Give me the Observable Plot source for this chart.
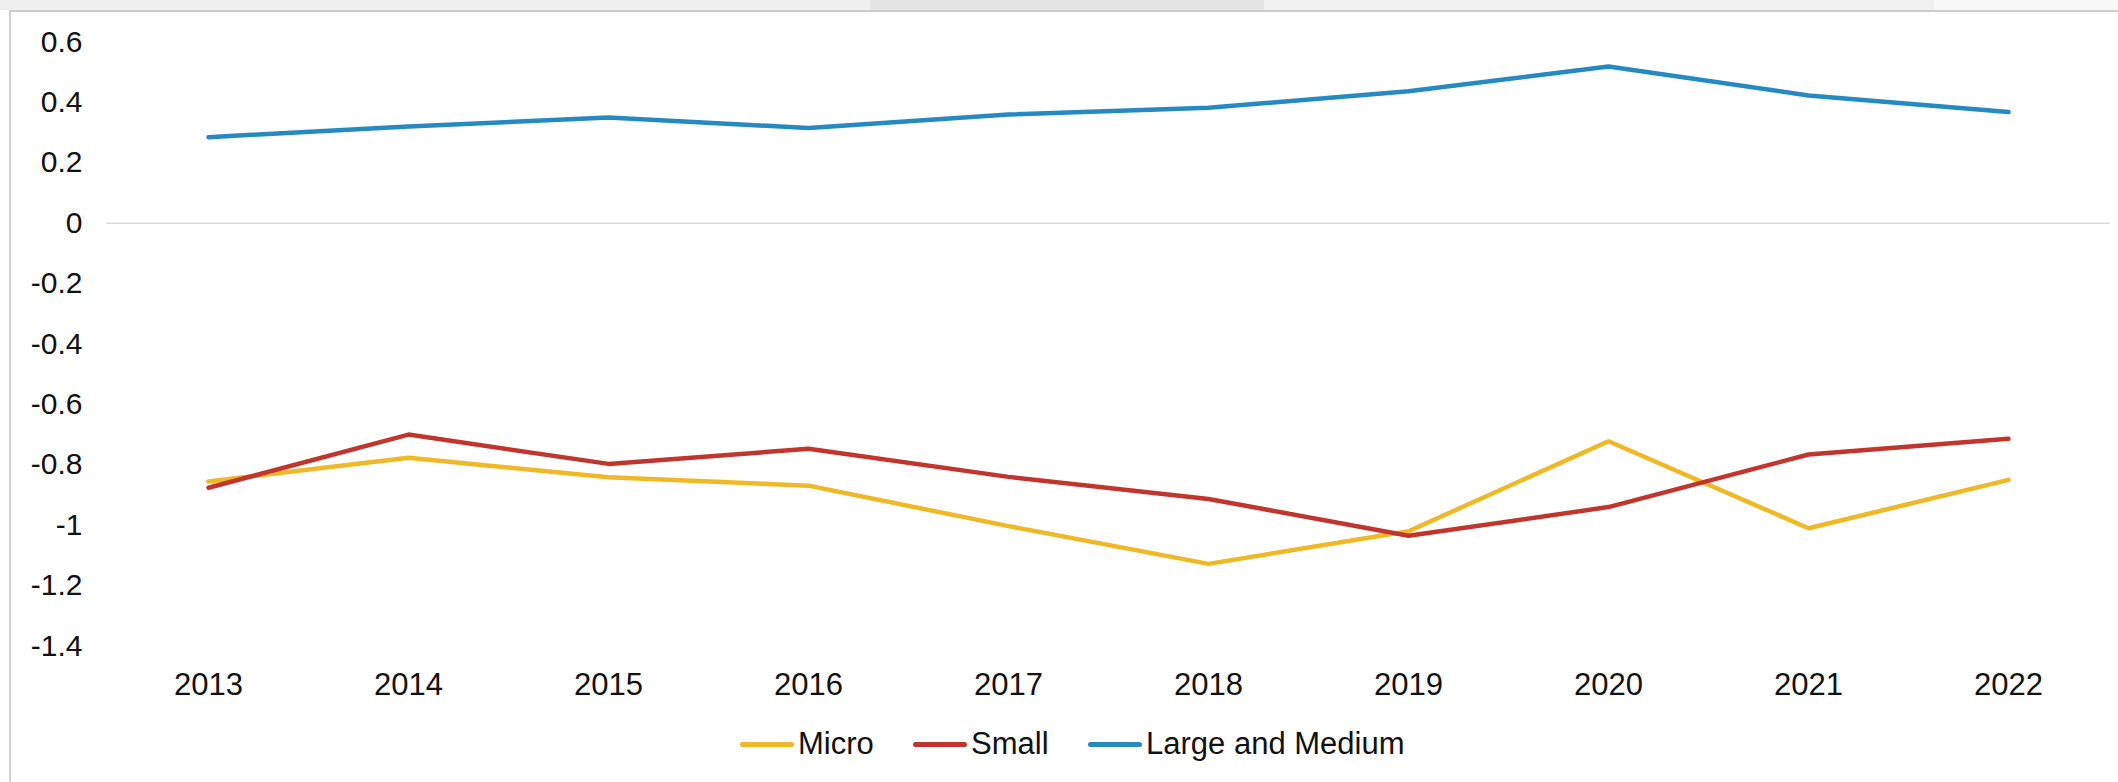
<!DOCTYPE html>
<html>
<head>
<meta charset="utf-8">
<script src="https://cdn.jsdelivr.net/npm/d3@7"></script>
<script src="https://cdn.jsdelivr.net/npm/@observablehq/plot@0.6"></script>
<style>
  html, body { margin: 0; padding: 0; background: #ffffff; }
  #wrap { position: relative; width: 2118px; height: 782px; overflow: hidden; background: #ffffff; font-family: "Liberation Sans", Arial, sans-serif; }
  .band { position: absolute; top: 0; height: 10px; }
  #frameTop { position: absolute; left: 9px; top: 10px; width: 2109px; height: 2px; background: #cdcdcd; }
  #frameLeft { position: absolute; left: 9px; top: 10px; width: 2px; height: 772px; background: #d2d2d2; }
  #chart { position: absolute; left: 0; top: 0; }
  #legend { position: absolute; left: 0; top: 715px; width: 2118px; height: 67px; }
  .item { position: absolute; top: 12px; display: flex; align-items: center; height: 34px; font-size: 31px; color: #111; }
  .swatch { width: 54px; height: 5px; border-radius: 3px; margin-right: 4px; }
</style>
</head>
<body>
<div id="wrap">
  <div class="band" style="left:0;width:870px;background:#efefef"></div>
  <div class="band" style="left:870px;width:394px;background:#e5e5e5"></div>
  <div class="band" style="left:1264px;width:670px;background:#f0f0f0"></div>
  <div class="band" style="left:1934px;width:184px;background:#f8f8f8"></div>
  <div id="frameTop"></div>
  <div id="frameLeft"></div>
  <div id="chart"></div>
  <div id="legend"></div>
</div>
<script>
const years = ["2013","2014","2015","2016","2017","2018","2019","2020","2021","2022"];
const seriesNames = ["Micro", "Small", "Large and Medium"];
const micro = [-0.855, -0.777, -0.841, -0.869, -1.003, -1.128, -1.02, -0.722, -1.01, -0.85];
const small = [-0.876, -0.70, -0.797, -0.747, -0.84, -0.913, -1.035, -0.94, -0.766, -0.714];
const largeMedium = [0.285, 0.32, 0.35, 0.315, 0.36, 0.382, 0.437, 0.519, 0.423, 0.368];
const yTicks = [0.6, 0.4, 0.2, 0, -0.2, -0.4, -0.6, -0.8, -1, -1.2, -1.4];
const colors = ["#efb824", "#c2352c", "#2589c2"];

const valuesBySeries = [micro, small, largeMedium];
const data = [];
seriesNames.forEach((s, si) => {
  years.forEach((yr, i) => data.push({series: s, year: yr, value: valuesBySeries[si][i]}));
});

const chart = Plot.plot({
  width: 2118,
  height: 715,
  marginLeft: 106.5,
  marginRight: 8.5,
  marginTop: 41.5,
  marginBottom: 69.5,
  style: { fontFamily: "'Liberation Sans', Arial, sans-serif", background: "transparent", color: "#111" },
  x: { type: "point", domain: years, padding: 0.5, label: null },
  y: { domain: [-1.4, 0.6], label: null },
  color: { domain: seriesNames, range: colors },
  marks: [
    Plot.ruleY([0], { stroke: "#d9d9d9", strokeWidth: 1.5 }),
    Plot.line(data, {
      x: "year", y: "value", z: "series", stroke: "series",
      strokeWidth: 4.5, strokeLinejoin: "round", strokeLinecap: "round"
    }),
    Plot.axisY(yTicks, {
      tickSize: 0, tickPadding: 24.5, fontSize: 30, fill: "#111",
      tickFormat: d => String(+d.toFixed(1)), label: null
    }),
    Plot.axisX(years, {
      tickSize: 0, tickPadding: 26.5, fontSize: 31, fill: "#111", label: null
    })
  ]
});
document.getElementById("chart").appendChild(chart);

const legendPos = [740, 913, 1088];
const legend = document.getElementById("legend");
seriesNames.forEach((s, i) => {
  const item = document.createElement("div");
  item.className = "item";
  item.style.left = legendPos[i] + "px";
  const sw = document.createElement("div");
  sw.className = "swatch";
  sw.style.background = colors[i];
  const tx = document.createElement("span");
  tx.textContent = s;
  item.appendChild(sw);
  item.appendChild(tx);
  legend.appendChild(item);
});
</script>
</body>
</html>
